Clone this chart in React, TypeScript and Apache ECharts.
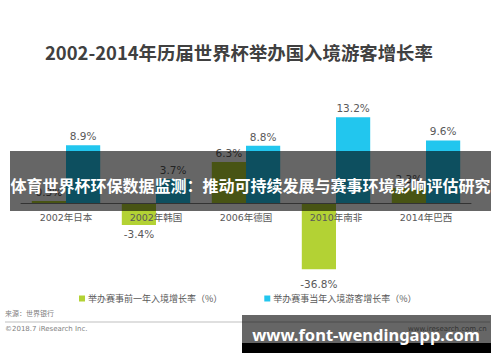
import React, { useEffect, useRef } from "react";
import * as echarts from "echarts";

const categories = ["2002年日本", "2002年韩国", "2006年德国", "2010年南非", "2014年巴西"];
const priorYear = [0.3, -3.4, 6.3, -36.8, 2.3];
const hostYear = [8.9, 3.7, 8.8, 13.2, 9.6];
const seriesNames = ["举办赛事前一年入境增长率（%）", "举办赛事当年入境游客增长率（%）"];
const titleText = "2002-2014年历届世界杯举办国入境游客增长率";
const overlayText = "体育世界杯环保数据监测：推动可持续发展与赛事环境影响评估研究";
const bannerText = "www.font-wendingapp.com";

const CJK = '"Noto Sans CJK SC", sans-serif';
const NUM = '"DejaVu Sans", "Noto Sans CJK SC", sans-serif';

const Y_MIN = -10.2;
const Y_MAX = 16;
const GRID_TOP = 99;
const GRID_H = 170.3;

export default function App() {
  const ref = useRef<HTMLDivElement>(null);
  useEffect(() => {
    document.body.style.margin = "0";
    const chart = echarts.init(ref.current!, undefined, { renderer: "svg" });
    // values below the visible range are clipped at the grid edge; their label sits below the cut
    const mk = (arr: number[]) =>
      arr.map((v) => ({
        value: v,
        label:
          v < Y_MIN
            ? { position: "insideBottom", offset: [0, 24] }
            : { position: v < 0 ? "bottom" : "top" },
      }));
    const zeroOffset = (-Y_MIN / (Y_MAX - Y_MIN)) * GRID_H;
    chart.setOption({
      animation: false,
      backgroundColor: "#ffffff",
      title: {
        text: titleText,
        left: 40,
        top: 38,
        textStyle: { fontFamily: CJK, fontSize: 18.4, fontWeight: "bold", color: "#404040" },
      },
      legend: {
        left: 74,
        top: 289,
        itemWidth: 6,
        itemHeight: 6,
        itemGap: 42,
        icon: "rect",
        textStyle: { fontFamily: CJK, fontSize: 9, color: "#595959", padding: [0, 0, 0, -2] },
        data: seriesNames,
      },
      grid: { left: 21, right: 29, top: GRID_TOP, height: GRID_H },
      xAxis: {
        type: "category",
        data: categories,
        position: "bottom",
        offset: -zeroOffset,
        z: 5,
        axisLine: { onZero: false, lineStyle: { color: "#7f7f7f", width: 1 } },
        axisTick: { show: false },
        axisLabel: { fontFamily: NUM, fontSize: 9.5, color: "#595959", margin: 10 },
      },
      yAxis: {
        type: "value",
        min: Y_MIN,
        max: Y_MAX,
        show: false,
        splitLine: { show: false },
      },
      series: [
        {
          name: seriesNames[0],
          type: "bar",
          data: mk(priorYear),
          barGap: "0%",
          barCategoryGap: "24%",
          clip: true,
          itemStyle: { color: "#b3d234" },
          label: {
            show: true,
            formatter: "{c}%",
            fontFamily: NUM,
            fontSize: 10.5,
            color: "#595959",
            distance: 4,
          },
        },
        {
          name: seriesNames[1],
          type: "bar",
          data: mk(hostYear),
          barGap: "0%",
          barCategoryGap: "24%",
          itemStyle: { color: "#22c6ee" },
          label: {
            show: true,
            formatter: "{c}%",
            fontFamily: NUM,
            fontSize: 10.5,
            color: "#595959",
            distance: 4,
          },
        },
      ],
      graphic: [
        {
          type: "text",
          left: 5,
          top: 309,
          style: { text: "来源：世界银行", fontFamily: CJK, fontSize: 7, fill: "#7f7f7f" },
        },
        {
          type: "line",
          shape: { x1: 5, y1: 322, x2: 490, y2: 322 },
          style: { stroke: "#bfbfbf", lineWidth: 1 },
        },
        {
          type: "text",
          left: 5,
          top: 325,
          style: { text: "©2018.7 iResearch Inc.", fontFamily: NUM, fontSize: 7, fill: "#7f7f7f" },
        },
        {
          type: "text",
          left: 408,
          top: 325,
          style: { text: "www.iresearch.com.cn", fontFamily: NUM, fontSize: 7, fill: "#7f7f7f" },
        },
        {
          type: "rect",
          z: 100,
          shape: { x: 10, y: 151, width: 481, height: 60 },
          style: { fill: "rgba(0,0,0,0.6)" },
        },
        {
          type: "text",
          z: 101,
          x: 250.5,
          y: 185,
          style: {
            text: overlayText,
            fontFamily: CJK,
            fontSize: 16,
            fontWeight: "bold",
            fill: "#ffffff",
            align: "center",
            verticalAlign: "middle",
          },
        },
        {
          type: "rect",
          z: 100,
          shape: { x: 242, y: 315, width: 249, height: 28 },
          style: { fill: "rgba(0,0,0,0.6)" },
        },
        {
          type: "rect",
          z: 100,
          shape: { x: 242, y: 343, width: 249, height: 10 },
          style: { fill: "#000000" },
        },
        {
          type: "text",
          z: 101,
          x: 366,
          y: 334,
          style: {
            text: bannerText,
            fontFamily: '"Noto Sans", sans-serif',
            fontSize: 16.5,
            fontWeight: "bold",
            fill: "#ffffff",
            align: "center",
            verticalAlign: "middle",
          },
        },
      ],
    });
    return () => chart.dispose();
  }, []);
  return <div ref={ref} style={{ width: 500, height: 362 }} />;
}
